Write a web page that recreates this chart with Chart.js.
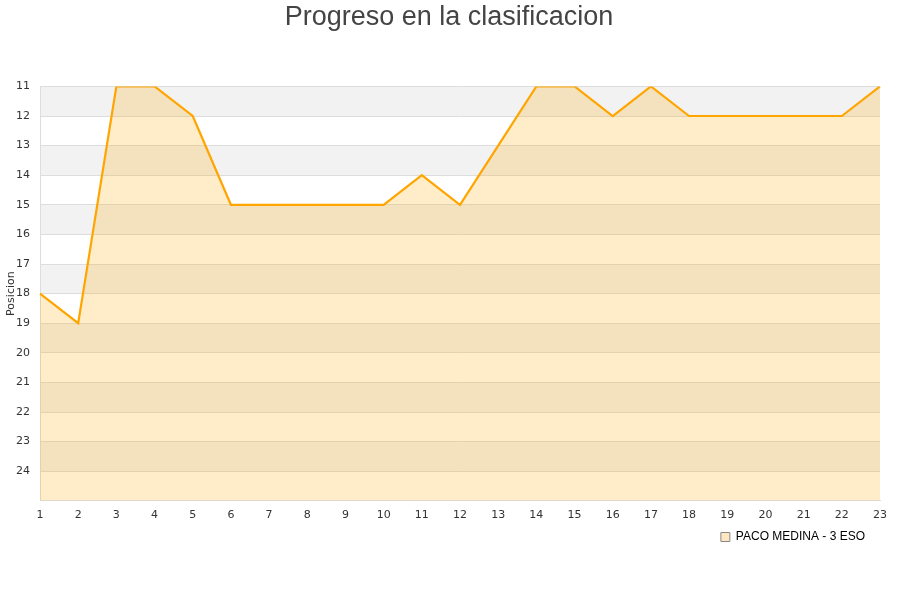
<!DOCTYPE html>
<html lang="es">
<head>
    <meta charset="UTF-8">
    <script src="https://cdn.jsdelivr.net/npm/chart.js"></script>
    <title>Progreso</title>
    <style>
        body { margin: 0; background: #fff; }
        #wrap { width: 900px; height: 600px; }
    </style>
</head>
<body>
    <div id="wrap">
        <canvas id="grafico" width="900" height="600"></canvas>
    </div>

<script>
    // datos
    var jornadas = ['1','2','3','4','5','6','7','8','9','10','11','12','13','14','15','16','17','18','19','20','21','22','23'];
    var posiciones = [18, 19, 11, 11, 12, 15, 15, 15, 15, 15, 14, 15, 13, 11, 11, 12, 11, 12, 12, 12, 12, 12, 11];
    var serie = 'PACO MEDINA - 3 ESO';
    var posMin = 11;
    var posMax = 25;

    // franjas grises alternas detras del grafico
    var franjas = {
        id: 'franjas',
        beforeDraw: function (chart) {
            var ctx = chart.ctx;
            var a = chart.chartArea;
            var y = chart.scales.y;
            ctx.save();
            ctx.fillStyle = '#f2f2f2';
            for (var v = posMin; v < posMax; v += 2) {
                var y1 = y.getPixelForValue(v);
                var y2 = y.getPixelForValue(v + 1);
                ctx.fillRect(a.left, y1, a.right - a.left, y2 - y1);
            }
            ctx.restore();
        }
    };

    // recolocar leyenda y titulo como en el original
    var recolocar = {
        id: 'recolocar',
        afterLayout: function (chart) {
            var l = chart.legend;
            var h = l.bottom - l.top;
            l.top = 537 - h / 2;
            l.bottom = l.top + h;
            l.left -= 5;
            l.right -= 5;
            var t = chart.titleBlock;
            t.left = 0;
            t.right = 898;
        }
    };

    new Chart(document.getElementById('grafico'), {
        type: 'line',
        data: {
            labels: jornadas,
            datasets: [{
                label: serie,
                data: posiciones,
                borderColor: '#ffa500',
                backgroundColor: 'rgba(255,165,0,0.21)',
                borderWidth: 2.2,
                pointRadius: 0,
                tension: 0,
                fill: { value: posMax }
            }]
        },
        options: {
            responsive: false,
            animation: false,
            layout: { padding: { left: 0, right: 20, top: 0, bottom: 38 } },
            plugins: {
                title: {
                    display: true,
                    text: 'Progreso en la clasificacion',
                    color: '#444',
                    font: { family: 'Liberation Sans', size: 27, weight: 'normal' },
                    padding: { top: 1, bottom: 53 }
                },
                legend: {
                    position: 'bottom',
                    align: 'end',
                    labels: {
                        color: '#000',
                        boxWidth: 9,
                        boxHeight: 9,
                        font: { family: 'Liberation Sans', size: 12 },
                        generateLabels: function () {
                            return [{
                                text: serie,
                                fillStyle: '#fde6c2',
                                strokeStyle: '#888',
                                lineWidth: 1,
                                fontColor: '#000'
                            }];
                        }
                    }
                },
                tooltip: { enabled: false }
            },
            scales: {
                x: {
                    offset: false,
                    grid: { display: false, drawTicks: false },
                    border: { color: '#ddd' },
                    ticks: {
                        color: '#333',
                        padding: 8,
                        maxRotation: 0,
                        autoSkip: false,
                        font: { family: 'DejaVu Sans', size: 11 }
                    }
                },
                y: {
                    reverse: true,
                    min: posMin,
                    max: posMax,
                    afterFit: function (s) { s.width = 40; },
                    grid: { color: '#ddd', drawTicks: false },
                    border: { color: '#ddd' },
                    title: {
                        display: true,
                        text: 'Posicion',
                        color: '#333',
                        padding: { top: 5, bottom: 0 },
                        font: { family: 'DejaVu Sans', size: 11 }
                    },
                    ticks: {
                        stepSize: 1,
                        color: '#333',
                        padding: 10,
                        font: { family: 'DejaVu Sans', size: 11 },
                        callback: function (v) { return v === posMax ? '' : v; }
                    }
                }
            }
        },
        plugins: [franjas, recolocar]
    });
</script>
</body>
</html>
